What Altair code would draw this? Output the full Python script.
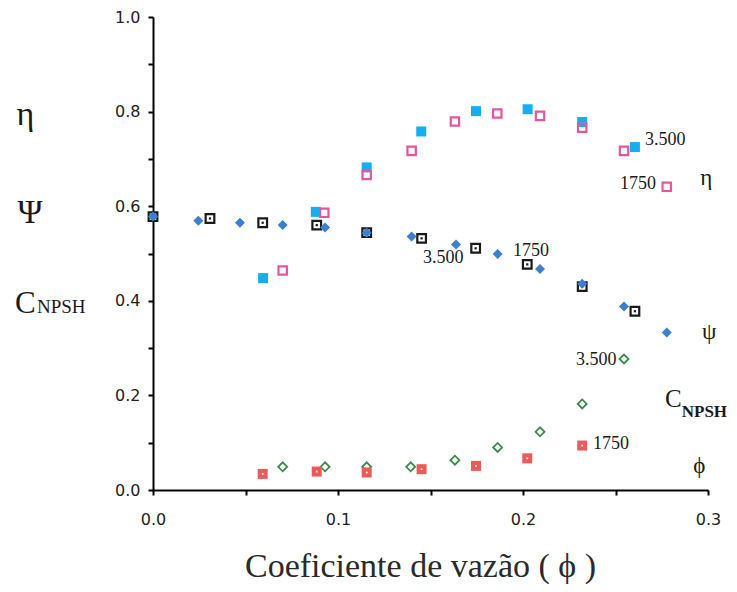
import altair as alt
import pandas as pd

# ---- data ----
eta3500_x = [0.0595, 0.088, 0.1155, 0.145, 0.1746, 0.2025, 0.232, 0.2605]
eta3500_y = [0.448, 0.588, 0.682, 0.758, 0.801, 0.805, 0.778, 0.725]

eta1750_x = [0.0701, 0.0926, 0.1155, 0.1398, 0.1632, 0.1861, 0.2092, 0.232, 0.2546, 0.2777]
eta1750_y = [0.464, 0.586, 0.666, 0.717, 0.779, 0.796, 0.791, 0.766, 0.717, 0.641]

psi3500_x = [0.0, 0.0245, 0.047, 0.0701, 0.093, 0.1155, 0.1398, 0.1638, 0.1863, 0.2092, 0.232, 0.2546, 0.2777]
psi3500_y = [0.578, 0.569, 0.565, 0.560, 0.555, 0.544, 0.536, 0.519, 0.499, 0.467, 0.436, 0.388, 0.333]

psi1750_x = [0.0, 0.0308, 0.0593, 0.0885, 0.1155, 0.1452, 0.1744, 0.2023, 0.232, 0.2605]
psi1750_y = [0.578, 0.574, 0.565, 0.560, 0.544, 0.532, 0.511, 0.477, 0.430, 0.378]

cn3500_x = [0.0701, 0.093, 0.1155, 0.1393, 0.1632, 0.1863, 0.2092, 0.232, 0.2546]
cn3500_y = [0.049, 0.049, 0.049, 0.049, 0.063, 0.090, 0.123, 0.182, 0.277]

cn1750_x = [0.0593, 0.0885, 0.1155, 0.1452, 0.1746, 0.2023, 0.232]
cn1750_y = [0.034, 0.039, 0.037, 0.044, 0.051, 0.067, 0.094]

# annotation labels (data coordinates)
num_text = ["3.500", "1750", "3.500", "1750", "3.500", "1750"]
num_x = [0.266, 0.2524, 0.146, 0.1946, 0.2286, 0.2378]
num_y = [0.740, 0.647, 0.490, 0.505, 0.275, 0.0966]

greek_right_text = ["η", "ψ", "ϕ"]
greek_right_x = [0.299, 0.3007, 0.2953]
greek_right_y = [0.66, 0.335, 0.051]

greek_left_text = ["η", "Ψ"]
greek_left_x = [-0.069, -0.0665]
greek_left_y = [0.793, 0.586]

XDOM = [0, 0.3]
YDOM = [0, 1.0]

xscale = alt.Scale(domain=XDOM, nice=False, zero=False)
yscale = alt.Scale(domain=YDOM, nice=False)

x_axis = alt.Axis(
    values=[0, 0.05, 0.1, 0.15, 0.2, 0.25, 0.3],
    labelExpr="abs(datum.value*10 - round(datum.value*10)) < 0.001 ? format(datum.value, '.1f') : ''",
    title="Coeficiente de vazão ( ϕ )",
    titleFont="Liberation Serif", titleFontSize=34, titleFontWeight="normal", titleColor="#2a2a2a",
    titleX=267, titleY=76, titleAlign="center", titleBaseline="middle", titleAnchor="start",
    labelFont="DejaVu Sans", labelFontSize=16, labelColor="#222", labelPadding=16,
    domainColor="black", domainWidth=2, tickColor="black", tickWidth=2, tickSize=5,
    grid=False, labelFlush=False,
)
y_axis = alt.Axis(
    values=[round(i * 0.1, 1) for i in range(11)],
    labelExpr="round(datum.value*10) % 2 == 0 ? format(datum.value, '.1f') : ''",
    title=None,
    labelFont="DejaVu Sans", labelFontSize=16, labelColor="#222", labelPadding=8,
    domainColor="black", domainWidth=2, tickColor="black", tickWidth=2, tickSize=5,
    grid=False, labelFlush=False,
)

X = alt.X("x:Q", scale=xscale, axis=x_axis)
Y = alt.Y("y:Q", scale=yscale, axis=y_axis)


def df(xs, ys):
    return pd.DataFrame({"x": xs, "y": ys})


def pts(xs, ys, **kw):
    return alt.Chart(df(xs, ys)).mark_point(opacity=1, **kw).encode(x=X, y=Y)


layers = [
    # psi 1750: hollow black squares with centre dot
    pts(psi1750_x, psi1750_y, shape="square", size=75, filled=False, color="#1a1a1a", strokeWidth=2.2),
    pts(psi1750_x, psi1750_y, shape="square", size=5, filled=True, color="#1a1a1a"),
    # psi 3500: filled blue diamonds
    pts(psi3500_x, psi3500_y, shape="diamond", size=100, filled=True, color="#3a7fd0"),
    # eta 3500: filled cyan squares
    pts(eta3500_x, eta3500_y, shape="square", size=100, filled=True, color="#17aeef"),
    # eta 1750: hollow pink squares
    pts(eta1750_x, eta1750_y, shape="square", size=70, filled=False, color="#e8559f", strokeWidth=2.2),
    # CNPSH 3500: hollow green diamonds
    pts(cn3500_x, cn3500_y, shape="diamond", size=80, filled=False, color="#3a8a48", strokeWidth=1.8),
    # CNPSH 1750: filled red squares with white dot
    pts(cn1750_x, cn1750_y, shape="square", size=100, filled=True, color="#ec5a5a"),
    pts(cn1750_x, cn1750_y, shape="square", size=3, filled=True, color="white"),
]


def text_layer(texts, xs, ys, size, align="left", baseline="middle", weight="normal", color="#1a1a1a"):
    d = pd.DataFrame({"t": texts, "x": xs, "y": ys})
    return alt.Chart(d).mark_text(
        font="Liberation Serif", fontSize=size, align=align, baseline=baseline,
        fontWeight=weight, color=color,
    ).encode(x=X, y=Y, text="t:N")


layers.append(text_layer(num_text, num_x, num_y, 18))
layers.append(text_layer(greek_right_text, greek_right_x, greek_right_y, 23, align="center"))
layers.append(text_layer(["C"], [0.2768], [0.1755], 25, baseline="alphabetic"))
layers.append(text_layer(["NPSH"], [0.2858], [0.154], 17, baseline="alphabetic", weight="bold"))
layers.append(text_layer(greek_left_text, greek_left_x, greek_left_y, 34, align="center"))
layers.append(text_layer(["C"], [-0.0746], [0.374], 31, baseline="alphabetic"))
layers.append(text_layer(["NPSH"], [-0.0627], [0.374], 19, baseline="alphabetic"))

chart = alt.layer(*layers).properties(
    width=555, height=473,
    autosize=alt.AutoSizeParams(type="none"),
    padding={"left": 145, "top": 9, "right": 21, "bottom": 100},
).configure_view(stroke=None)

chart.save("out.html", embed_options={"renderer": "svg", "actions": False})
